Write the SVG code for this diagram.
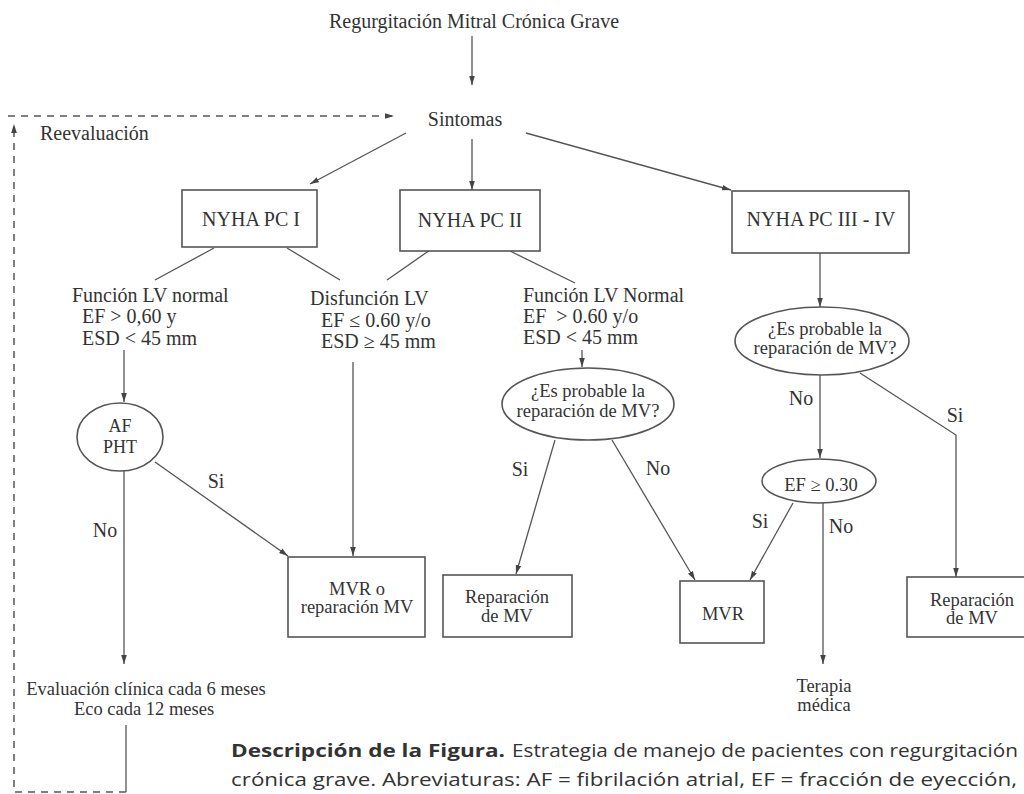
<svg xmlns="http://www.w3.org/2000/svg" width="1024" height="794" viewBox="0 0 1024 794">
<defs>
<marker id="ah" markerWidth="10" markerHeight="8" refX="9" refY="4" orient="auto" markerUnits="userSpaceOnUse"><path d="M0,1.2 L9,4 L0,6.8 z" fill="#444"/></marker>
</defs>
<style>
.t{font-family:"Liberation Serif","Times New Roman",serif;font-size:20px;fill:#333}
.s{font-size:18.5px}
.xs{font-size:18px}
.c{text-anchor:middle}
.box{fill:#fff;stroke:#555;stroke-width:1.6}
.ln{fill:none;stroke:#555;stroke-width:1.3}
.ar{marker-end:url(#ah)}
.dash{fill:none;stroke:#555;stroke-width:1.5;stroke-dasharray:7 6}
.cap{font-family:"Open Sans","Liberation Sans",sans-serif;font-size:18px;fill:#333}
</style>
<rect width="1024" height="794" fill="#fff"/>

<g id="connectors">
  <line class="ln ar" x1="472" y1="36" x2="472" y2="85"/>
  <line class="ln ar" x1="406" y1="133" x2="310" y2="184"/>
  <line class="ln ar" x1="472" y1="139" x2="472" y2="190"/>
  <line class="ln ar" x1="526" y1="133" x2="731" y2="190"/>
  <line class="ln" x1="214" y1="248" x2="155" y2="280"/>
  <line class="ln" x1="287" y1="248" x2="340" y2="280"/>
  <line class="ln" x1="430" y1="250" x2="387" y2="280"/>
  <line class="ln" x1="510" y1="251" x2="575" y2="283"/>
  <line class="ln ar" x1="124" y1="350" x2="124" y2="402"/>
  <line class="ln ar" x1="124" y1="471" x2="124" y2="664"/>
  <line class="ln ar" x1="155" y1="462" x2="288" y2="556"/>
  <line class="ln ar" x1="353" y1="362" x2="353" y2="556"/>
  <line class="ln" x1="126" y1="725" x2="126" y2="792"/>
  <line class="ln ar" x1="582" y1="350" x2="582" y2="367"/>
  <line class="ln ar" x1="555" y1="440" x2="516" y2="574"/>
  <line class="ln ar" x1="612" y1="440" x2="695" y2="580"/>
  <line class="ln ar" x1="820" y1="253" x2="820" y2="307"/>
  <line class="ln ar" x1="820" y1="375" x2="820" y2="458"/>
  <polyline class="ln ar" points="860,373 956,435 956,577"/>
  <line class="ln ar" x1="793" y1="503" x2="750" y2="580"/>
  <line class="ln ar" x1="823" y1="503" x2="823" y2="664"/>
  <polyline class="dash ar" points="126,792 14,792 14,124"/>
  <line class="dash ar" x1="8" y1="116" x2="394" y2="116"/>
</g>

<g id="title"><text class="t c" x="474" y="28">Regurgitación Mitral Crónica Grave</text></g>
<g id="sintomas"><text class="t c" x="465" y="126">Sintomas</text></g>
<g id="reevaluacion"><text class="t" x="40" y="140">Reevaluación</text></g>

<g id="pc1"><rect class="box" x="182" y="190" width="135" height="57"/><text class="t c" x="251" y="226">NYHA PC I</text></g>
<g id="pc2"><rect class="box" x="400" y="190" width="140" height="61"/><text class="t c" x="470" y="227">NYHA PC II</text></g>
<g id="pc3"><rect class="box" x="732" y="191" width="177" height="62"/><text class="t c" x="821" y="226">NYHA PC III - IV</text></g>

<g id="funcion-normal">
  <text class="t" x="72" y="302">Función LV normal</text>
  <text class="t" x="82" y="323">EF &gt; 0,60 y</text>
  <text class="t" x="82" y="345">ESD &lt; 45 mm</text>
</g>
<g id="disfuncion">
  <text class="t" x="310" y="305">Disfunción LV</text>
  <text class="t" x="321" y="327">EF ≤ 0.60 y/o</text>
  <text class="t" x="321" y="348">ESD ≥ 45 mm</text>
</g>
<g id="funcion-normal-2">
  <text class="t" x="523" y="302">Función LV Normal</text>
  <text class="t" x="523" y="323" xml:space="preserve">EF  &gt; 0.60 y/o</text>
  <text class="t" x="523" y="344">ESD &lt; 45 mm</text>
</g>

<g id="af-pht"><ellipse class="box" cx="120" cy="437" rx="43" ry="34"/><text class="t xs c" x="120" y="432">AF</text><text class="t xs c" x="120" y="453">PHT</text></g>
<g id="mvr-o-rep"><rect class="box" x="288" y="557" width="137" height="80"/><text class="t s c" x="357" y="595">MVR o</text><text class="t s c" x="357" y="613">reparación MV</text></g>
<g id="evaluacion"><text class="t s c" x="146" y="695">Evaluación clínica cada 6 meses</text><text class="t s c" x="144" y="715">Eco cada 12 meses</text></g>

<g id="prob-rep-1"><ellipse class="box" cx="588" cy="404" rx="86" ry="36"/><text class="t s c" x="588" y="397">¿Es probable la</text><text class="t s c" x="588" y="417">reparación de MV?</text></g>
<g id="rep-1"><rect class="box" x="443" y="575" width="129" height="62"/><text class="t s c" x="507" y="603">Reparación</text><text class="t s c" x="507" y="622">de MV</text></g>
<g id="mvr"><rect class="box" x="680" y="581" width="84" height="62"/><text class="t s c" x="723" y="620">MVR</text></g>

<g id="prob-rep-2"><ellipse class="box" cx="822" cy="341" rx="87" ry="34"/><text class="t s c" x="825" y="335">¿Es probable la</text><text class="t s c" x="825" y="354">reparación de MV?</text></g>
<g id="ef030"><ellipse class="box" cx="819" cy="481" rx="57" ry="22"/><text class="t s c" x="821" y="491">EF ≥ 0.30</text></g>
<g id="rep-2"><rect class="box" x="907" y="577" width="140" height="60"/><text class="t s c" x="972" y="606">Reparación</text><text class="t s c" x="972" y="624">de MV</text></g>
<g id="terapia"><text class="t s c" x="824" y="692">Terapia</text><text class="t s c" x="824" y="711">médica</text></g>

<g id="labels">
  <text class="t c" x="105" y="537">No</text>
  <text class="t c" x="216" y="488">Si</text>
  <text class="t c" x="520" y="476">Si</text>
  <text class="t c" x="658" y="475">No</text>
  <text class="t c" x="760" y="528">Si</text>
  <text class="t c" x="841" y="533">No</text>
  <text class="t c" x="801" y="405">No</text>
  <text class="t c" x="955" y="422">Si</text>
</g>

<g id="caption">
  <text class="cap" x="231" y="757" font-weight="bold" textLength="274" lengthAdjust="spacingAndGlyphs">Descripción de la Figura.</text>
  <text class="cap" x="512" y="757" textLength="506" lengthAdjust="spacingAndGlyphs">Estrategia de manejo de pacientes con regurgitación</text>
  <text class="cap" x="231" y="786" textLength="786" lengthAdjust="spacingAndGlyphs">crónica grave. Abreviaturas: AF = fibrilación atrial, EF = fracción de eyección,</text>
</g>
</svg>
